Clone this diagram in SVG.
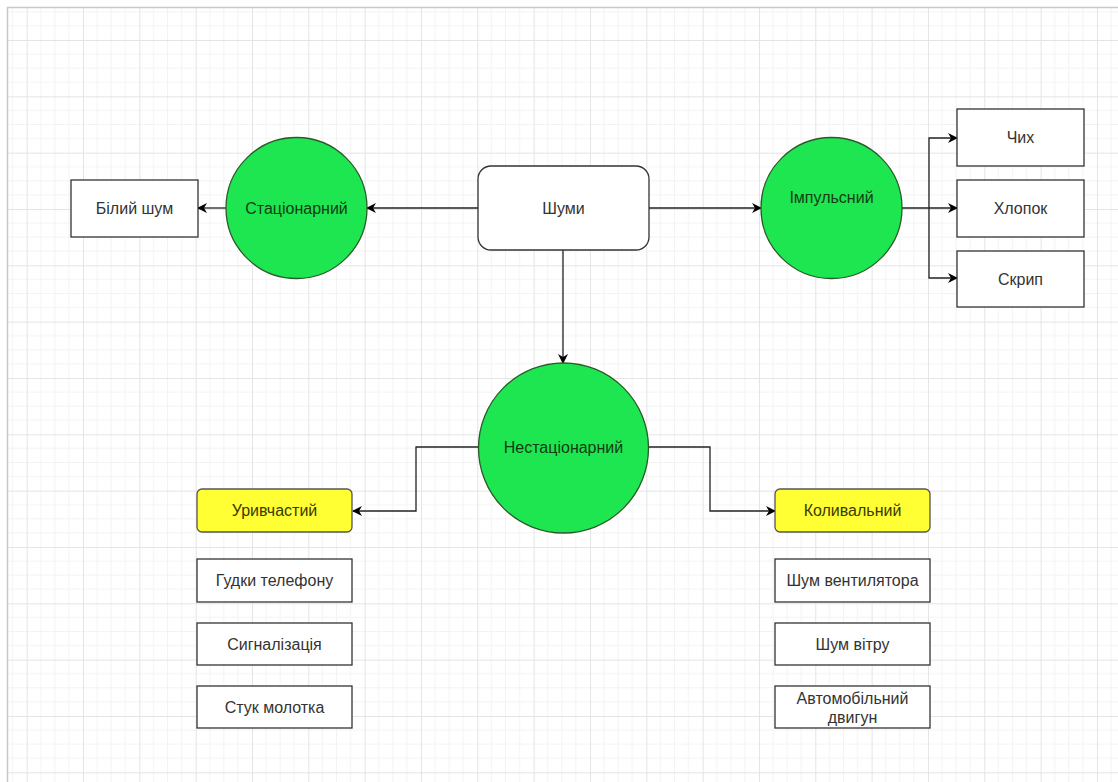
<svg xmlns="http://www.w3.org/2000/svg" width="1118" height="782" viewBox="0 0 1118 782">
<defs>
<pattern id="grid" patternUnits="userSpaceOnUse" x="26.67" y="40" width="56.33" height="56.33">
<path d="M14.08,0V56.33M28.17,0V56.33M42.25,0V56.33M0,14.08H56.33M0,28.17H56.33M0,42.25H56.33" stroke="#f3f3f3" stroke-width="1" fill="none"/>
<path d="M0.5,0V56.33M0,0.5H56.33" stroke="#e4e4e4" stroke-width="1" fill="none"/>
</pattern>
<marker id="arr" viewBox="0 0 10 10" refX="9" refY="5" markerWidth="10" markerHeight="10" markerUnits="userSpaceOnUse" orient="auto">
<path d="M0,0 L10,5 L0,10 L3,5 z" fill="#000"/>
</marker>
<style>
.box{fill:#fff;stroke:#333;stroke-width:1.3}
.circ{fill:#1ee650;stroke:#2a5a2a;stroke-width:1.3}
.yel{fill:#ffff33;stroke:#555;stroke-width:1.3}
.t{font-family:"Liberation Sans",Arial,sans-serif;font-size:16px;fill:#333;text-anchor:middle;dominant-baseline:central}
.tg{fill:#143c14}
.ty{fill:#3a3a00}
.c{fill:none;stroke:#222;stroke-width:1.3}
</style>
</defs>
<rect width="1118" height="782" fill="#fff"/>
<rect x="8" y="8" width="1110" height="774" fill="url(#grid)"/>
<path d="M7.5,782V7.5H1118" stroke="#c8c8c8" stroke-width="1.5" fill="none"/>

<g id="connectors">
<path class="c" d="M478,208H367" marker-end="url(#arr)"/>
<path class="c" d="M226,208H198" marker-end="url(#arr)"/>
<path class="c" d="M649,208H761" marker-end="url(#arr)"/>
<path class="c" d="M902,208H957" marker-end="url(#arr)"/>
<path class="c" d="M929,208V138H957" marker-end="url(#arr)"/>
<path class="c" d="M929,208V278H957" marker-end="url(#arr)"/>
<path class="c" d="M563,250V363" marker-end="url(#arr)"/>
<path class="c" d="M479,447H416V511H353" marker-end="url(#arr)"/>
<path class="c" d="M648,447H710V511H775" marker-end="url(#arr)"/>
</g>

<g id="shumy"><rect class="box" x="478" y="166" width="171" height="84" rx="13"/><text class="t" x="563.5" y="208">Шуми</text></g>
<g id="stat"><circle class="circ" cx="296.5" cy="208" r="70.5"/><text class="t tg" x="296.5" y="208">Стаціонарний</text></g>
<g id="bilyi"><rect class="box" x="71" y="180" width="127" height="57"/><text class="t" x="134.5" y="208.5">Білий шум</text></g>
<g id="imp"><circle class="circ" cx="831.5" cy="208" r="70.5"/><text class="t tg" x="831.5" y="197">Імпульсний</text></g>
<g id="chykh"><rect class="box" x="957" y="109" width="127" height="57"/><text class="t" x="1020.5" y="137.5">Чих</text></g>
<g id="khlopok"><rect class="box" x="957" y="180" width="127" height="57"/><text class="t" x="1020.5" y="208.5">Хлопок</text></g>
<g id="skryp"><rect class="box" x="957" y="251" width="127" height="56"/><text class="t" x="1020.5" y="279">Скрип</text></g>
<g id="nestat"><circle class="circ" cx="563.5" cy="448" r="85"/><text class="t tg" x="563.5" y="447">Нестаціонарний</text></g>
<g id="uryv"><rect class="yel" x="197" y="489" width="155" height="43" rx="5"/><text class="t ty" x="274.5" y="510.5">Уривчастий</text></g>
<g id="gudky"><rect class="box" x="197" y="559" width="155" height="43"/><text class="t" x="274.5" y="580.5">Гудки телефону</text></g>
<g id="syhn"><rect class="box" x="197" y="623" width="155" height="42"/><text class="t" x="274.5" y="644">Сигналізація</text></g>
<g id="stuk"><rect class="box" x="197" y="686" width="155" height="42"/><text class="t" x="274.5" y="707">Стук молотка</text></g>
<g id="kolyv"><rect class="yel" x="775" y="489" width="155" height="43" rx="5"/><text class="t ty" x="852.5" y="510.5">Коливальний</text></g>
<g id="vent"><rect class="box" x="775" y="559" width="155" height="43"/><text class="t" x="852.5" y="580.5">Шум вентилятора</text></g>
<g id="vitr"><rect class="box" x="775" y="623" width="155" height="42"/><text class="t" x="852.5" y="644">Шум вітру</text></g>
<g id="avto"><rect class="box" x="775" y="686" width="155" height="42"/><text class="t" x="852.5" y="698">Автомобільний</text><text class="t" x="852.5" y="717">двигун</text></g>
</svg>
